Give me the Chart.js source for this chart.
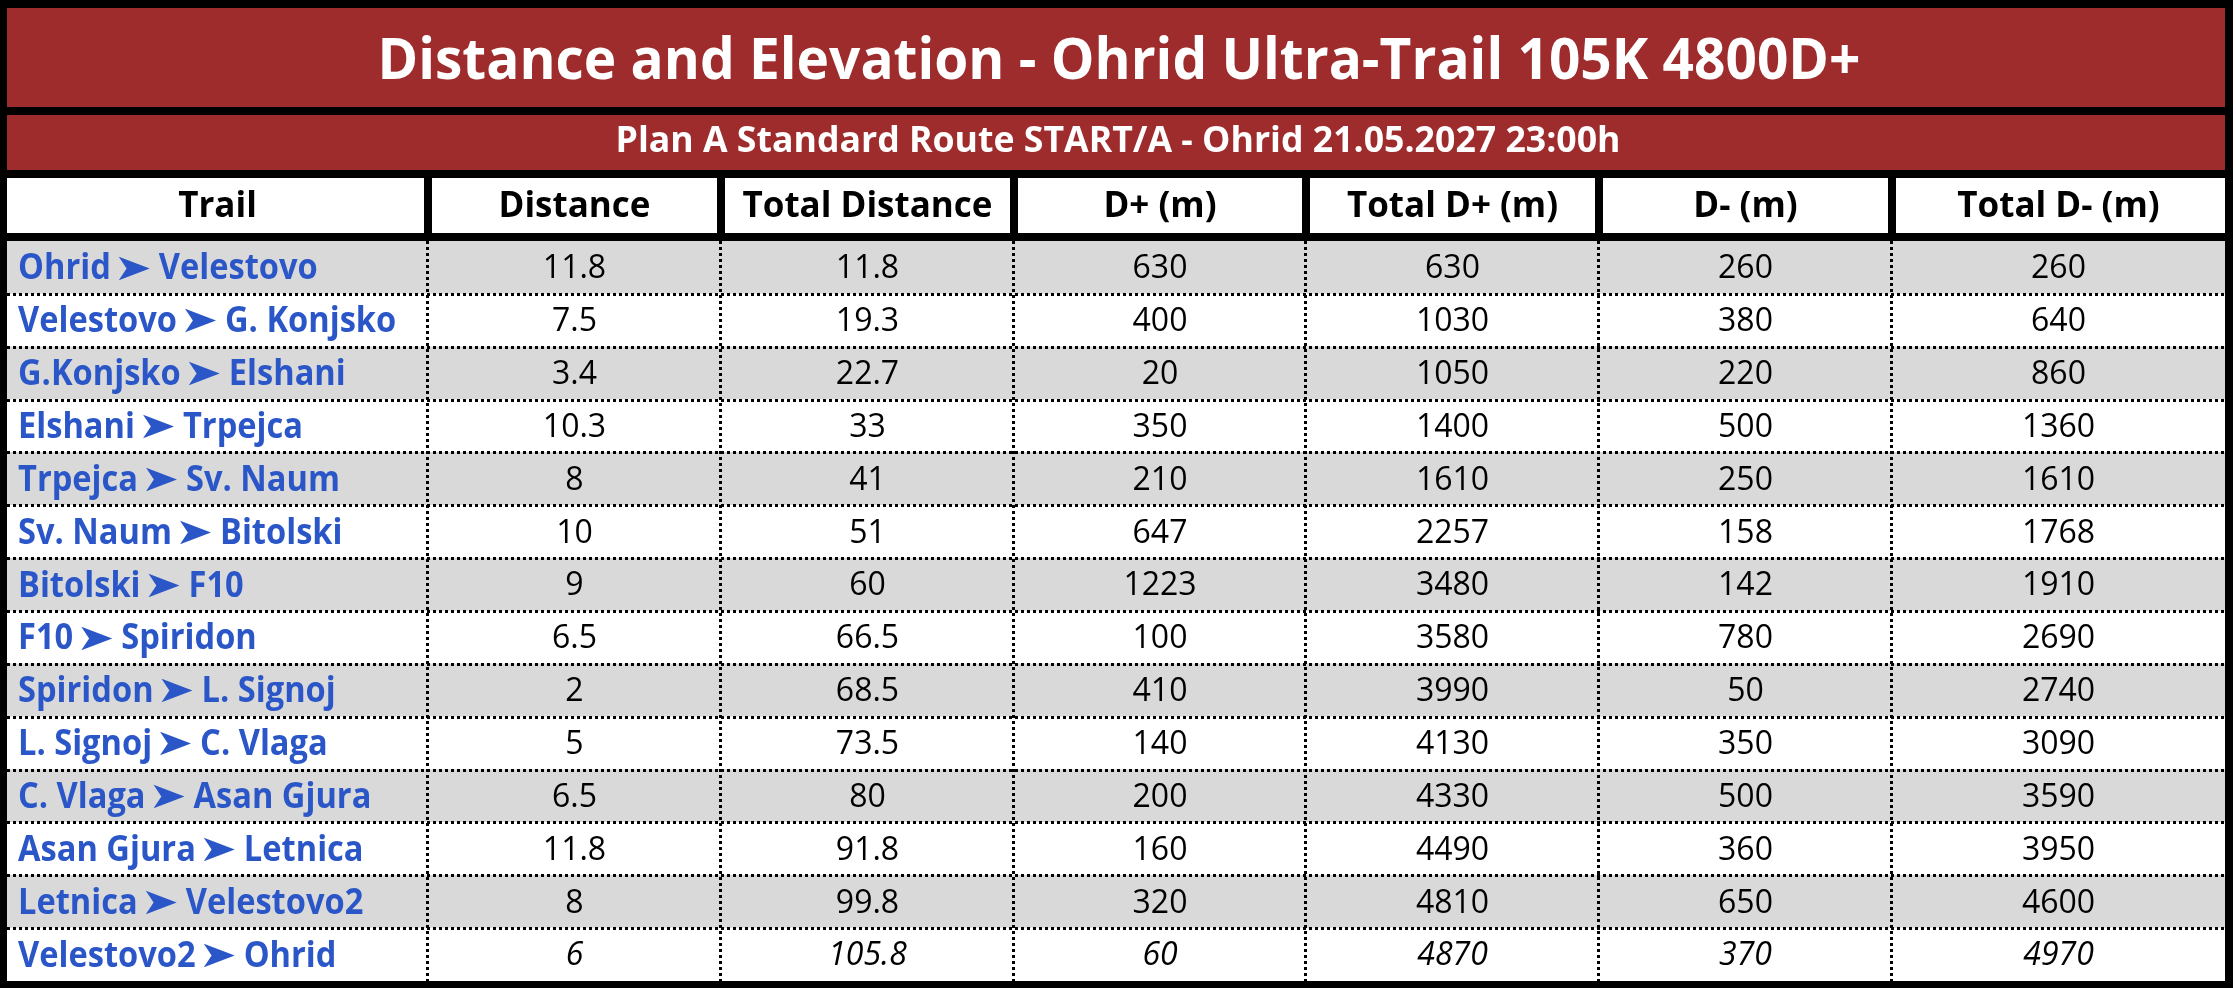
<!DOCTYPE html>
<html><head><meta charset="utf-8">
<script src="https://cdn.jsdelivr.net/npm/chart.js@4.4.1/dist/chart.umd.min.js"></script>
<style>html,body{margin:0;padding:0;background:#fff;overflow:hidden}canvas{display:block}</style>
</head><body>
<div style="width:2236px;height:988px"><canvas id="c" width="2236" height="988"></canvas></div>
<script>
// ---------- data ----------
const titleText = 'Distance and Elevation - Ohrid Ultra-Trail 105K 4800D+';
const subtitleText = 'Plan A Standard Route START/A - Ohrid 21.05.2027 23:00h';
const headers = ['Trail', 'Distance', 'Total Distance', 'D+ (m)', 'Total D+ (m)', 'D- (m)', 'Total D- (m)'];
const trails = [
  'Ohrid ➤ Velestovo', 'Velestovo ➤ G. Konjsko', 'G.Konjsko ➤ Elshani', 'Elshani ➤ Trpejca',
  'Trpejca ➤ Sv. Naum', 'Sv. Naum ➤ Bitolski', 'Bitolski ➤ F10', 'F10 ➤ Spiridon',
  'Spiridon ➤ L. Signoj', 'L. Signoj ➤ C. Vlaga', 'C. Vlaga ➤ Asan Gjura', 'Asan Gjura ➤ Letnica',
  'Letnica ➤ Velestovo2', 'Velestovo2 ➤ Ohrid'
];
const distance      = [11.8, 7.5, 3.4, 10.3, 8, 10, 9, 6.5, 2, 5, 6.5, 11.8, 8, 6];
const totalDistance = [11.8, 19.3, 22.7, 33, 41, 51, 60, 66.5, 68.5, 73.5, 80, 91.8, 99.8, 105.8];
const dPlus         = [630, 400, 20, 350, 210, 647, 1223, 100, 410, 140, 200, 160, 320, 60];
const totalDPlus    = [630, 1030, 1050, 1400, 1610, 2257, 3480, 3580, 3990, 4130, 4330, 4490, 4810, 4870];
const dMinus        = [260, 380, 220, 500, 250, 158, 142, 780, 50, 350, 500, 360, 650, 370];
const totalDMinus   = [260, 640, 860, 1360, 1610, 1768, 1910, 2690, 2740, 3090, 3590, 3950, 4600, 4970];
const columns = [trails, distance, totalDistance, dPlus, totalDPlus, dMinus, totalDMinus];

// ---------- layout / style ----------
const COL_W = [421, 293, 293, 292, 293, 293, 333];
const colEdges = COL_W.reduce((a, w) => { a.push(a[a.length - 1] + w); return a; }, [0]);
const TOTAL = colEdges[colEdges.length - 1];
const FONT = '"Open Sans", "DejaVu Sans", sans-serif';
const COLORS = { red: '#9e2c2d', black: '#000000', gray: '#d9d9d9', white: '#ffffff', blue: '#2a56c8', text: '#000000' };
const BAND = { titleTop: 8, titleBot: 107, subTop: 115, subBot: 170, headTop: 178, headBot: 233 };
const SEP = 8;
const ARROW = '➤';

function capText(ctx, text, x, cy, size, weight, style, color, align, fitW, sxFixed) {
  ctx.save();
  ctx.font = style + ' ' + weight + ' ' + size + 'px ' + FONT;
  ctx.fillStyle = color;
  ctx.textAlign = 'left';
  ctx.textBaseline = 'alphabetic';
  const w = ctx.measureText(text).width;
  const sx = fitW ? fitW / w : (sxFixed || 1);
  const left = align === 'center' ? x - (w * sx) / 2 : x;
  ctx.translate(left, cy + size * 0.357);
  ctx.scale(sx, 1);
  ctx.fillText(text, 0, 0);
  ctx.restore();
  return w * sx;
}

function drawTrail(ctx, name, x, cy) {
  const parts = name.split(' ' + ARROW + ' ');
  ctx.save();
  ctx.font = '700 35px ' + FONT;
  const sx = 159 / ctx.measureText('Velestovo').width;
  ctx.restore();
  const gap = 8;
  let cur = x;
  cur += capText(ctx, parts[0], cur, cy, 35, 700, 'normal', COLORS.blue, 'left', null, sx) + gap;
  // arrow glyph, sized to the reference ink box
  ctx.save();
  ctx.font = '700 100px ' + FONT;
  const m = ctx.measureText(ARROW);
  const inkW = m.actualBoundingBoxLeft + m.actualBoundingBoxRight;
  const inkH = m.actualBoundingBoxAscent + m.actualBoundingBoxDescent;
  const k = 24 / inkH;
  const ax = 31 / (inkW * k);
  const size = 100 * k;
  ctx.font = '700 ' + size + 'px ' + FONT;
  ctx.fillStyle = COLORS.blue;
  ctx.textAlign = 'left';
  ctx.textBaseline = 'alphabetic';
  const baseY = cy + 1 + (m.actualBoundingBoxAscent - m.actualBoundingBoxDescent) * k / 2;
  ctx.translate(cur, baseY);
  ctx.scale(ax, 1);
  ctx.fillText(ARROW, m.actualBoundingBoxLeft * k, 0);
  ctx.restore();
  cur += 31 + gap + 1;
  if (parts[1]) capText(ctx, parts[1], cur, cy, 35, 700, 'normal', COLORS.blue, 'left', null, sx);
}

const tablePlugin = {
  id: 'tablePlugin',
  beforeDraw(chart) {
    const { ctx, scales: { x } } = chart;
    const xs = colEdges.map(v => x.getPixelForValue(v));
    ctx.save();
    ctx.fillStyle = COLORS.black;
    ctx.fillRect(0, 0, xs[xs.length - 1] + SEP, chart.height);
    ctx.fillStyle = COLORS.red;
    ctx.fillRect(xs[0], BAND.titleTop, xs[7] - xs[0], BAND.titleBot - BAND.titleTop);
    ctx.fillRect(xs[0], BAND.subTop, xs[7] - xs[0], BAND.subBot - BAND.subTop);
    ctx.fillStyle = COLORS.white;
    for (let j = 0; j < 7; j++) {
      const l = xs[j] + (j > 0 ? SEP / 2 : 0);
      const r = xs[j + 1] - (j < 6 ? SEP / 2 : 0);
      ctx.fillRect(l, BAND.headTop, r - l, BAND.headBot - BAND.headTop);
    }
    ctx.restore();
  },
  afterDatasetsDraw(chart) {
    const { ctx, chartArea: a, scales: { x, y } } = chart;
    const xs = colEdges.map(v => x.getPixelForValue(v));
    ctx.save();
    ctx.strokeStyle = COLORS.black;
    ctx.lineWidth = 3;
    ctx.setLineDash([3, 3]);
    ctx.beginPath();
    for (let i = 1; i < trails.length; i++) {
      const yb = Math.round((y.getPixelForValue(i - 1) + y.getPixelForValue(i)) / 2) + 0.5;
      ctx.moveTo(xs[0], yb); ctx.lineTo(xs[7], yb);
    }
    for (let j = 1; j < 7; j++) {
      const xb = Math.round(xs[j]) - 0.5;
      ctx.moveTo(xb, a.top); ctx.lineTo(xb, a.bottom);
    }
    ctx.stroke();
    ctx.setLineDash([]);
    ctx.restore();

    const mid = (xs[0] + xs[7]) / 2;
    capText(ctx, titleText, mid + 3, 58.5, 57, 700, 'normal', COLORS.white, 'center', 1483);
    capText(ctx, subtitleText, mid + 2, 139, 36, 700, 'normal', COLORS.white, 'center', 1005);
    for (let j = 0; j < 7; j++) {
      capText(ctx, headers[j], (xs[j] + xs[j + 1]) / 2, 204.5, 35, 700, 'normal', COLORS.text, 'center');
    }
    chart.data.datasets.forEach((ds, j) => {
      const meta = chart.getDatasetMeta(j);
      meta.data.forEach((el, i) => {
        const cx = (el.x + el.base) / 2;
        const cy = el.y - 0.5;
        if (j === 0) {
          drawTrail(ctx, String(columns[0][i]), xs[0] + 11, cy);
        } else {
          const it = i === trails.length - 1 ? 'italic' : 'normal';
          capText(ctx, String(columns[j][i]), cx, cy, 32, 400, it, COLORS.text, 'center');
        }
      });
    });
  }
};

function build() {
  new Chart(document.getElementById('c'), {
    type: 'bar',
    data: {
      labels: trails,
      datasets: headers.map((h, j) => ({
        label: h,
        data: trails.map(() => COL_W[j]),
        backgroundColor: c => (c.dataIndex % 2 === 0 ? COLORS.gray : COLORS.white),
        borderWidth: 0,
        barPercentage: 1,
        categoryPercentage: 1
      }))
    },
    options: {
      indexAxis: 'y',
      responsive: false,
      devicePixelRatio: 1,
      animation: false,
      layout: { padding: { left: 7, right: 11, top: 241, bottom: 7 } },
      scales: {
        x: { type: 'linear', min: 0, max: TOTAL, stacked: true, display: false },
        y: { type: 'category', stacked: true, display: false, offset: true }
      },
      plugins: { legend: { display: false }, tooltip: { enabled: false }, title: { display: false } }
    },
    plugins: [tablePlugin]
  });
}
Promise.all([
  document.fonts.load('700 35px "Open Sans"'),
  document.fonts.load('400 32px "Open Sans"'),
  document.fonts.load('italic 400 32px "Open Sans"')
]).catch(() => {}).then(build);
</script>
</body></html>
